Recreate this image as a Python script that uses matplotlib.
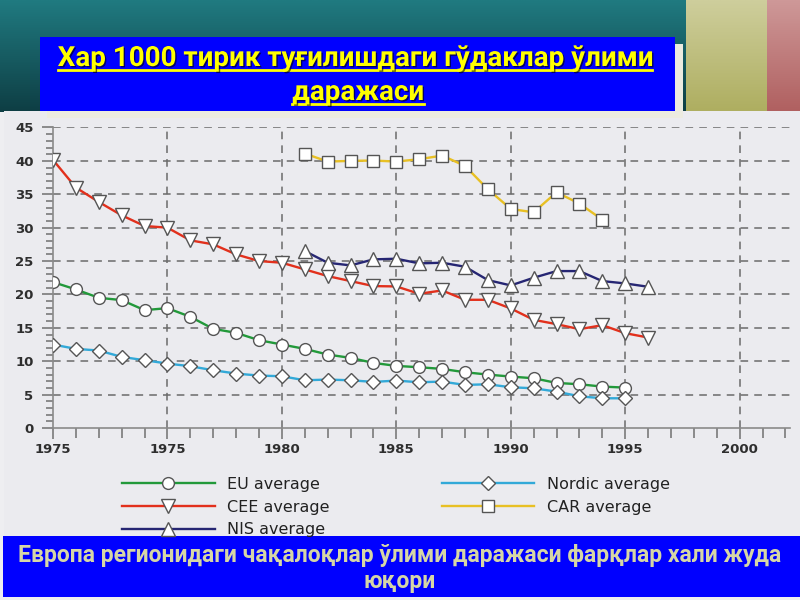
import numpy as np
import matplotlib
matplotlib.use("Agg")
import matplotlib.pyplot as plt
from matplotlib.patches import Rectangle
from matplotlib.lines import Line2D
from matplotlib.ticker import MultipleLocator
import matplotlib.patheffects as pe

# infant deaths per 1000 live births
years_long = list(range(1970, 1996))
eu_avg = [21.85, 20.75, 19.5, 19.15, 17.65, 17.95, 16.65, 14.85, 14.25, 13.15,
          12.5, 11.85, 11.0, 10.5, 9.75, 9.3, 9.1, 8.85, 8.35, 8.0,
          7.7, 7.45, 6.75, 6.55, 6.2, 6.05]
nordic_avg = [12.5, 11.85, 11.6, 10.65, 10.15, 9.65, 9.25, 8.65, 8.15, 7.85,
              7.75, 7.15, 7.25, 7.15, 6.9, 7.1, 6.85, 6.95, 6.45, 6.55,
              6.1, 5.95, 5.45, 4.75, 4.45, 4.45]
years_cee = list(range(1970, 1997))
cee_avg = [40.15, 36.0, 33.85, 31.85, 30.25, 30.0, 28.1, 27.5, 26.0, 25.0,
           24.75, 23.75, 22.75, 22.0, 21.25, 21.2, 20.1, 20.6, 19.2, 19.2,
           17.9, 16.2, 15.55, 14.8, 15.4, 14.2, 13.55]
years_nis = list(range(1981, 1997))
nis_avg = [26.5, 24.75, 24.35, 25.25, 25.35, 24.65, 24.75, 24.15, 22.15, 21.35,
           22.5, 23.5, 23.5, 22.0, 21.65, 21.15]
years_car = list(range(1981, 1995))
car_avg = [41.1, 39.9, 40.0, 40.05, 39.9, 40.25, 40.8, 39.25, 35.75, 32.8,
           32.3, 35.3, 33.6, 31.2]

xtick_years = [1970, 1975, 1980, 1985, 1990, 1995, 2000]
xtick_labels = ["1975", "1975", "1980", "1985", "1990", "1995", "2000"]

title_lines = ["Хар 1000 тирик туғилишдаги гўдаклар ўлими", "даражаси"]
footer_lines = ["Европа регионидаги чақалоқлар ўлими даражаси фарқлар хали жуда", "юқори"]

W, H = 800, 600
fig = plt.figure(figsize=(8, 6), dpi=100)
fig.patch.set_facecolor("#eeeef1")

# slide background drawn in pixel coordinates
bg = fig.add_axes([0, 0, 1, 1], zorder=0)
bg.axis("off")

def vgrad(x0, x1, y0, y1, top, bottom):
    g = np.linspace(0, 1, 64)[:, None, None]
    img = np.array(top)[None, None, :] * (1 - g) + np.array(bottom)[None, None, :] * g
    img = np.repeat(img, 2, axis=1) / 255.0
    bg.imshow(img, extent=[x0, x1, y1, y0], aspect="auto", interpolation="bilinear", zorder=1)

vgrad(0, 686, 0, 112, (32, 122, 128), (14, 62, 68))
vgrad(686, 767, 0, 112, (206, 206, 156), (174, 174, 96))
vgrad(767, W, 0, 112, (206, 152, 152), (176, 96, 96))
bg.set_xlim(0, W)
bg.set_ylim(H, 0)

bg.add_patch(Rectangle((4, 111), W - 4, 426, facecolor="#ebebef", edgecolor="none", zorder=2))
bg.add_patch(Rectangle((47, 44), 636, 74, facecolor="#ecebe0", edgecolor="none", zorder=3))
bg.add_patch(Rectangle((40, 37), 635, 74, facecolor="#0000ff", edgecolor="none", zorder=4))
bg.add_patch(Rectangle((3, 536), W - 3, 61, facecolor="#0000ff", edgecolor="none", zorder=4))

# chart
ax = fig.add_axes([53 / W, (H - 428) / H, (790 - 53) / W, (428 - 127.5) / H], zorder=2)
ax.set_facecolor("none")
ax.set_xlim(1970, 2002.2)
ax.set_ylim(0, 45)

series = [
    ("EU average", years_long, eu_avg, "#22993a", "o", 8.5),
    ("CEE average", years_cee, cee_avg, "#e2301c", "v", 9.5),
    ("NIS average", years_nis, nis_avg, "#262673", "^", 9.5),
    ("Nordic average", years_long, nordic_avg, "#32a9d8", "D", 7.5),
    ("CAR average", years_car, car_avg, "#e8c024", "s", 8.5),
]
handles = []
for label, xs, ys, color, marker, ms in series:
    (h,) = ax.plot(xs, ys, color=color, lw=1.7, marker=marker, ms=ms,
                   mfc="white", mec="#555555", mew=1.0, zorder=3, label=label)
    handles.append(h)

for y in range(5, 50, 5):
    ax.axhline(y, color="#6a6a6a", lw=1.1, ls=(0, (5, 4)), zorder=1)
for x in range(1975, 2001, 5):
    ax.axvline(x, color="#6a6a6a", lw=1.1, ls=(0, (5, 4)), zorder=1)

for side in ("top", "right"):
    ax.spines[side].set_visible(False)
for side in ("left", "bottom"):
    ax.spines[side].set_color("#8a8a8a")
    ax.spines[side].set_linewidth(1.2)

ax.set_xticks(xtick_years)
ax.set_xticklabels(xtick_labels)
ax.xaxis.set_minor_locator(MultipleLocator(1))
ax.yaxis.set_major_locator(MultipleLocator(5))
ax.yaxis.set_minor_locator(MultipleLocator(1))
ax.tick_params(axis="both", which="both", direction="out", color="#7a7a7a", width=1.2)
ax.tick_params(axis="x", which="major", length=8, pad=3)
ax.tick_params(axis="x", which="minor", length=7)
ax.tick_params(axis="y", which="major", length=8, pad=6)
ax.tick_params(axis="y", which="minor", length=5)
for lab in ax.get_xticklabels() + ax.get_yticklabels():
    lab.set_fontweight("bold")
    lab.set_fontsize(9.5)
    lab.set_color("#2e2e2e")

fig.legend(handles=handles, loc="upper left", bbox_to_anchor=(122 / W, 1 - 477 / H),
           ncol=2, frameon=False, borderpad=0, borderaxespad=0,
           handlelength=5.8, handletextpad=0.8, columnspacing=7.0, labelspacing=0.48,
           prop={"family": "DejaVu Sans", "size": 11.5}, labelcolor="#222222")

# title and footer texts
shadow = [pe.SimplePatchShadow(offset=(1, -1), shadow_rgbFace="black", alpha=0.6), pe.Normal()]
narrow = ["Roboto", "DejaVu Sans"]
t1 = fig.text(355 / W, 1 - 66 / H, title_lines[0], ha="center", va="baseline", color="#ffff00",
              fontsize=20, fontweight="bold", family=narrow, path_effects=shadow)
t2 = fig.text(358 / W, 1 - 100 / H, title_lines[1], ha="center", va="baseline", color="#ffff00",
              fontsize=20, fontweight="bold", family=narrow, path_effects=shadow)
fig.text(400 / W, 1 - 562 / H, footer_lines[0], ha="center", va="baseline", color="#d6d6a6",
         fontsize=16.5, fontweight="bold", family=narrow)
fig.text(400 / W, 1 - 588 / H, footer_lines[1], ha="center", va="baseline", color="#d6d6a6",
         fontsize=16.5, fontweight="bold", family=narrow)

# underline the title lines
fig.canvas.draw()
for t, base in ((t1, 66), (t2, 100)):
    bb = t.get_window_extent()
    y = 1 - (base + 4) / H
    fig.add_artist(Line2D([bb.x0 / W, bb.x1 / W], [y, y], color="#ffff00", lw=2.0,
                          path_effects=shadow))

fig.savefig("out.png", dpi=100)
